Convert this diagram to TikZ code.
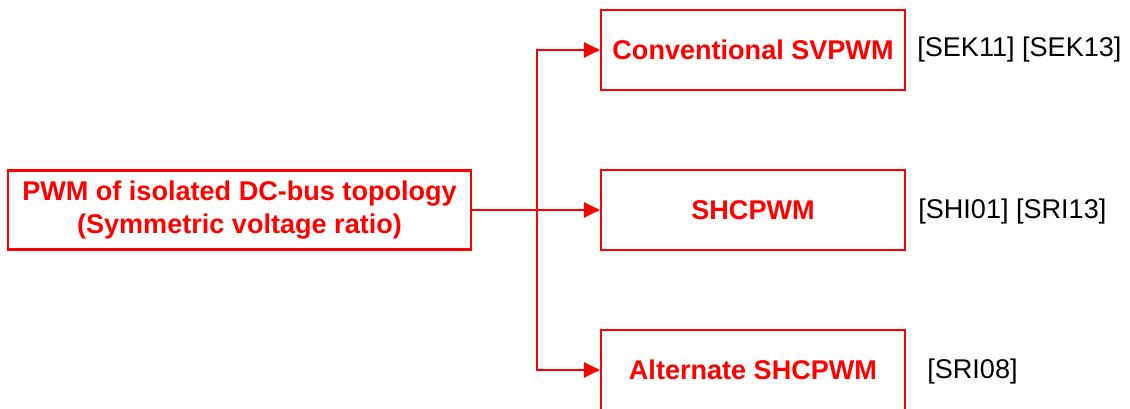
\documentclass[tikz,border=0pt]{standalone}
\usepackage{fontspec}
\setmainfont{Liberation Sans}
\usetikzlibrary{positioning, arrows.meta}

\begin{document}
\begin{tikzpicture}[
    topic/.style={rectangle, draw=red, line width=1.2pt, fill=white,
        minimum width=9.26cm, minimum height=1.58cm, align=center, inner sep=0pt,
        text=red, font=\fontsize{15.4}{18.8}\selectfont\bfseries},
    method/.style={rectangle, draw=red, line width=1.2pt, fill=white,
        minimum width=6.08cm, minimum height=1.6cm, align=center, inner sep=0pt,
        text=red, font=\fontsize{15.4}{18}\selectfont\bfseries},
    cite/.style={anchor=west, inner sep=0pt, font=\fontsize{15.4}{18}\selectfont},
    link/.style={draw=red, line width=1.2pt, -{Triangle[length=0.32cm, width=0.3cm]}}
]

% --- Marco ---
\useasboundingbox (0,0) rectangle (22.6,8.18);

% --- Nodo raíz ---
\node[topic] (pwm) at (4.79,3.98) {PWM of isolated DC-bus topology\\(Symmetric voltage ratio)};

% --- Métodos ---
\node[method] (svpwm) at (15.06,7.18) {Conventional SVPWM};
\node[method] (shcpwm) at (15.06,3.98) {SHCPWM};
\node[method] (altshc) at (15.06,0.78) {Alternate SHCPWM};

% --- Referencias ---
\node[cite] (refA) at (18.34,7.18) {[SEK11] [SEK13]};
\node[cite] (refB) at (18.36,3.94) {[SHI01] [SRI13]};
\node[cite] (refC) at (18.54,0.74) {[SRI08]};

% --- Conexiones ---
\coordinate (split) at (10.74,3.98);
\draw[link] (pwm.east) -- (shcpwm.west);
\draw[link] (split) |- (svpwm.west);
\draw[link] (split) |- (altshc.west);

\end{tikzpicture}
\end{document}
